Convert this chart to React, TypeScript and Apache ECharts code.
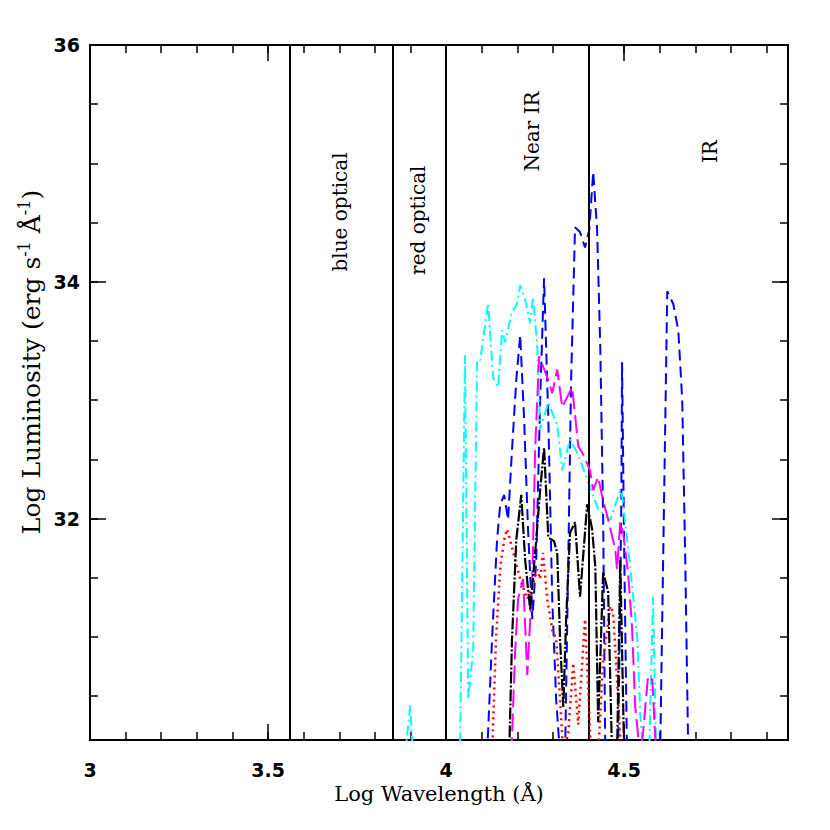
import React, { useEffect, useRef } from 'react';
import * as echarts from 'echarts';

// Axis ranges and tick labels
const xRange = [3, 4.96];
const yRange = [30.13, 36];
const xTickLabels = ['3', '3.5', '4', '4.5'];
const yTickLabels = ['32', '34', '36'];

// Band boundaries (log wavelength)
const bandEdges = [3.5623, 3.8451, 4.0, 4.3979];

// Region labels
const regionNames = ['blue optical', 'red optical', 'Near IR', 'IR'];
const regionX = [3.702, 3.921, 4.242, 4.742];
const regionY = [34.59, 34.52, 35.27, 35.1];

// Spectra: [log wavelength, log luminosity]; values below the axis are clipped
const blueDashed = [
  [4.115, 30.0], [4.129, 30.98], [4.143, 31.82], [4.152, 32.12], [4.163, 32.2], [4.174, 31.99],
  [4.185, 32.58], [4.197, 33.17], [4.208, 33.55], [4.219, 32.84], [4.23, 31.91], [4.242, 31.15],
  [4.253, 31.65], [4.264, 33.0], [4.275, 34.03], [4.287, 32.84], [4.298, 31.32], [4.309, 30.47],
  [4.32, 30.0], [4.334, 30.0], [4.343, 31.65], [4.351, 33.17], [4.362, 34.46], [4.376, 34.42],
  [4.39, 34.29], [4.402, 34.44], [4.413, 34.93], [4.424, 34.44], [4.433, 33.43], [4.441, 31.99],
  [4.447, 30.0], [4.483, 30.0], [4.492, 32.16], [4.494, 33.32], [4.5, 31.74], [4.508, 30.0],
  [4.601, 30.0], [4.612, 32.16], [4.621, 33.92], [4.638, 33.81], [4.652, 33.59], [4.663, 33.0],
  [4.671, 31.74], [4.68, 30.0],
];

const cyanDashDot = [
  [3.885, 30.0], [3.899, 30.42], [3.907, 30.0], [4.039, 30.0], [4.053, 33.38], [4.062, 30.47],
  [4.076, 30.89], [4.087, 33.34], [4.096, 33.34], [4.118, 33.82], [4.132, 33.19], [4.146, 33.11],
  [4.157, 33.59], [4.166, 33.49], [4.185, 33.75], [4.199, 33.81], [4.208, 33.97], [4.222, 33.85],
  [4.236, 33.65], [4.244, 33.87], [4.256, 33.45], [4.264, 32.75], [4.287, 32.98], [4.312, 32.79],
  [4.326, 32.41], [4.348, 32.67], [4.371, 32.54], [4.396, 32.33], [4.427, 32.08], [4.461, 31.99],
  [4.489, 32.24], [4.494, 32.2], [4.517, 31.59], [4.537, 30.98], [4.545, 30.36], [4.553, 30.0],
  [4.57, 30.0], [4.581, 31.34], [4.59, 30.0],
];

const magentaLongDash = [
  [4.183, 30.0], [4.194, 30.89], [4.202, 31.32], [4.216, 31.49], [4.228, 30.68], [4.242, 31.49],
  [4.25, 32.58], [4.261, 33.37], [4.287, 33.17], [4.298, 33.06], [4.312, 33.26], [4.326, 32.94],
  [4.354, 33.11], [4.371, 32.61], [4.382, 32.56], [4.404, 32.41], [4.413, 32.24], [4.427, 32.35],
  [4.438, 32.19], [4.455, 31.99], [4.475, 31.74], [4.48, 31.57], [4.489, 31.97], [4.497, 31.88],
  [4.511, 31.54], [4.522, 31.09], [4.531, 30.41], [4.545, 30.0], [4.553, 30.19], [4.567, 30.67],
  [4.579, 30.64], [4.587, 30.16], [4.593, 30.0],
];

const blackDashDots = [
  [4.177, 30.0], [4.185, 30.98], [4.197, 31.82], [4.211, 32.2], [4.222, 31.65], [4.236, 31.23],
  [4.253, 31.82], [4.264, 32.24], [4.275, 32.6], [4.287, 31.84], [4.303, 31.81], [4.312, 31.71],
  [4.32, 30.98], [4.329, 30.41], [4.337, 31.15], [4.348, 31.88], [4.362, 31.97], [4.376, 31.34],
  [4.396, 32.12], [4.41, 31.91], [4.419, 31.59], [4.427, 30.28], [4.441, 31.55], [4.455, 31.38],
  [4.466, 30.0], [4.48, 30.0], [4.489, 31.65], [4.5, 30.0],
];

const redDotted = [
  [4.129, 30.0], [4.14, 30.98], [4.152, 31.59], [4.163, 31.82], [4.171, 31.91], [4.183, 31.78],
  [4.194, 31.65], [4.208, 31.49], [4.228, 31.32], [4.242, 31.43], [4.256, 31.57], [4.264, 31.49],
  [4.272, 31.71], [4.284, 31.32], [4.298, 31.06], [4.309, 30.98], [4.32, 30.47], [4.329, 30.0],
  [4.343, 30.19], [4.357, 30.78], [4.371, 30.26], [4.39, 31.15], [4.399, 30.56], [4.407, 30.0],
  [4.427, 30.0], [4.441, 30.81], [4.461, 31.26], [4.469, 31.21], [4.483, 30.47], [4.492, 30.0],
];

const tickFont = 'DejaVu Sans';
const nameFont = 'DejaVu Serif';

export default function App() {
  const ref = useRef<HTMLDivElement>(null);

  useEffect(() => {
    if (!ref.current) return;
    const chart = echarts.init(ref.current, null, { renderer: 'svg' });

    const axisLine = { show: true, lineStyle: { color: '#000', width: 2 } };
    const mkX = (pos: string, interval: number, len: number, labels: boolean) => ({
      type: 'value',
      position: pos,
      min: xRange[0],
      max: xRange[1],
      interval,
      axisLine,
      axisTick: { show: true, inside: true, length: len, lineStyle: { color: '#000', width: 1.5 } },
      axisLabel: labels
        ? {
            show: true,
            margin: 20,
            color: '#000',
            fontFamily: tickFont,
            fontWeight: 'bold',
            fontSize: 19,
            formatter: (v: number) => {
              const s = String(Math.round(v * 100) / 100);
              return xTickLabels.includes(s) ? s : '';
            },
          }
        : { show: false },
      splitLine: { show: false },
      name: labels ? 'Log Wavelength (Å)' : '',
      nameLocation: 'middle',
      nameGap: 41,
      nameTextStyle: { color: '#000', fontFamily: nameFont, fontSize: 21 },
    });
    const mkY = (pos: string, splitNumber: number, len: number, labels: boolean) => ({
      type: 'value',
      position: pos,
      min: yRange[0],
      max: yRange[1],
      splitNumber,
      axisLine,
      axisTick: { show: true, inside: true, length: len, lineStyle: { color: '#000', width: 1.5 } },
      axisLabel: labels
        ? {
            show: true,
            margin: 10,
            color: '#000',
            fontFamily: tickFont,
            fontWeight: 'bold',
            fontSize: 19,
            formatter: (v: number) => {
              const s = String(Math.round(v * 100) / 100);
              return yTickLabels.includes(s) ? s : '';
            },
          }
        : { show: false },
      splitLine: { show: false },
    });

    const lineSeries = (data: number[][], color: string, dash: number[] | string, width: number, z: number) => ({
      type: 'line',
      data,
      xAxisIndex: 0,
      yAxisIndex: 0,
      showSymbol: false,
      symbol: 'none',
      clip: true,
      z,
      lineStyle: { color, width, type: dash },
      silent: true,
    });

    const blue = lineSeries(blueDashed, '#0000ff', [11, 6], 2, 3) as any;
    blue.markLine = {
      silent: true,
      symbol: ['none', 'none'],
      label: { show: false },
      lineStyle: { color: '#000', type: 'solid', width: 2 },
      data: bandEdges.map((x) => ({ xAxis: x })),
    };

    chart.setOption({
      animation: false,
      backgroundColor: '#fff',
      grid: { left: 90, right: 42, top: 45, bottom: 90, containLabel: false },
      xAxis: [mkX('bottom', 0.5, 16, true), mkX('bottom', 0.1, 8, false), mkX('top', 0.5, 16, false), mkX('top', 0.1, 8, false)],
      yAxis: [mkY('left', 3, 16, true), mkY('left', 12, 8, false), mkY('right', 3, 16, false), mkY('right', 12, 8, false)],
      series: [
        blue,
        lineSeries(cyanDashDot, '#00ffff', [10, 4, 2, 4], 2, 4),
        lineSeries(magentaLongDash, '#ff00ff', [18, 6], 2, 5),
        lineSeries(redDotted, '#ff0000', [2, 4], 2.5, 6),
        lineSeries(blackDashDots, '#000000', [12, 2, 2, 2], 2.2, 7),
      ],
    });

    const graphics: any[] = regionNames.map((t, i) => {
      const p = chart.convertToPixel({ xAxisIndex: 0, yAxisIndex: 0 }, [regionX[i], regionY[i]]) as number[];
      return {
        type: 'text',
        x: p[0],
        y: p[1],
        rotation: Math.PI / 2,
        z: 10,
        style: {
          text: t,
          fill: '#000',
          font: `20px "${nameFont}"`,
          textAlign: 'center',
          textVerticalAlign: 'middle',
          align: 'center',
          verticalAlign: 'middle',
        },
      };
    });
    graphics.push({
      type: 'text',
      x: 31,
      y: 362,
      rotation: Math.PI / 2,
      z: 10,
      style: {
        text: 'Log Luminosity (erg s{sup|-1} Å{sup|-1})',
        fill: '#000',
        font: `25px "${nameFont}"`,
        fontFamily: nameFont,
        fontSize: 25,
        textAlign: 'center',
        textVerticalAlign: 'middle',
        align: 'center',
        verticalAlign: 'middle',
        rich: {
          sup: { fontFamily: nameFont, fontSize: 16, verticalAlign: 'top', lineHeight: 30, fill: '#000' },
        },
      },
    });
    chart.setOption({ graphic: graphics });

    return () => chart.dispose();
  }, []);

  return <div ref={ref} style={{ position: 'fixed', left: 0, top: 0, width: 830, height: 830 }} />;
}
